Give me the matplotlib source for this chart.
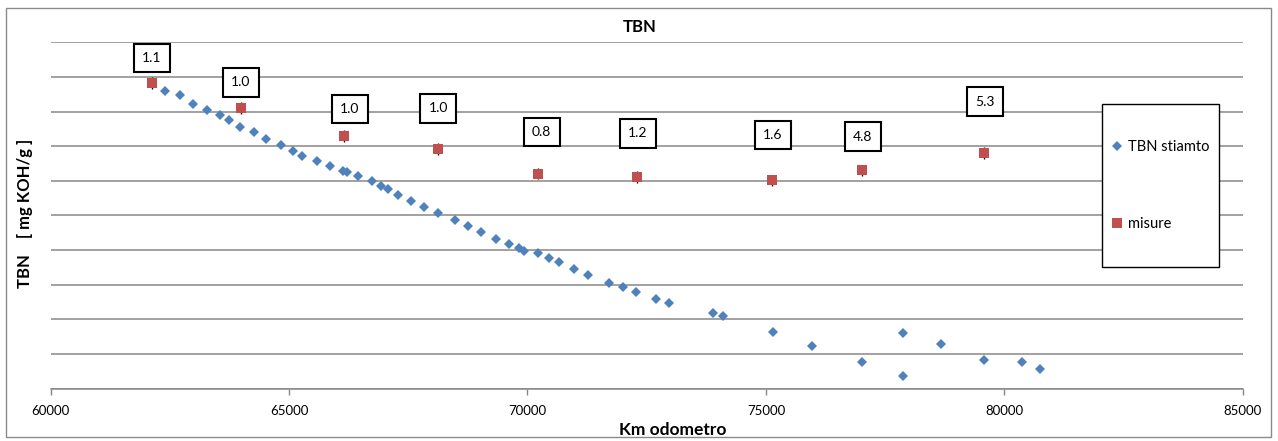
import matplotlib
matplotlib.use("Agg")
import matplotlib.pyplot as plt
from matplotlib.patches import Rectangle

# Estimated TBN along the odometer reading
km_stimato = [62403, 62711, 62978, 63278, 63550, 63745, 63976, 64257, 64521, 64829,
              65075, 65276, 65584, 65851, 66136, 66207, 66438, 66731, 66920, 67067,
              67289, 67549, 67834, 68115, 68478, 68757, 69030, 69338, 69621, 69816,
              69925, 70225, 70443, 70665, 70974, 71273, 71701, 71995, 72280, 72699,
              72966, 73895, 74092, 75140, 75964, 77013, 77879, 77879, 78670, 79565,
              80362, 80752]
tbn_stimato = [8.60, 8.47, 8.23, 8.05, 7.90, 7.75, 7.55, 7.40, 7.21, 7.03,
               6.86, 6.72, 6.57, 6.43, 6.29, 6.25, 6.14, 5.99, 5.86, 5.75,
               5.59, 5.43, 5.25, 5.06, 4.88, 4.70, 4.52, 4.33, 4.19, 4.05,
               3.97, 3.91, 3.76, 3.65, 3.45, 3.29, 3.06, 2.93, 2.79, 2.59,
               2.46, 2.17, 2.10, 1.63, 1.22, 0.77, 1.60, 0.36, 1.28, 0.83,
               0.76, 0.57]

# Laboratory measurements
km_misure = [62118, 63984, 66150, 68128, 70225, 72295, 75132, 77019, 79571]
tbn_misure = [8.82, 8.11, 7.30, 6.91, 6.21, 6.11, 6.01, 6.30, 6.81]
err_misure = [0.17, 0.17, 0.17, 0.17, 0.17, 0.17, 0.17, 0.17, 0.17]
etichette_misure = ["1.1", "1.0", "1.0", "1.0", "0.8", "1.2", "1.6", "4.8", "5.3"]

x_ticks = [60000, 65000, 70000, 75000, 80000, 85000]
y_grid = [0, 1, 2, 3, 4, 5, 6, 7, 8, 9, 10]

# label box offsets (points) relative to each measurement
offset_etichette = [(0, 18), (0, 18.3), (4.3, 19.2), (0, 29.5), (2.4, 29.8),
                    (0.5, 31.5), (0.5, 32.8), (0.5, 24.2), (0.5, 36.7)]

plt.rcParams['font.family'] = ['Lato', 'DejaVu Sans']

BLU = '#4F81BD'
ROSSO = '#C0504D'
GRIGIO = '#878787'

fig = plt.figure(figsize=(12.78, 4.41), dpi=100)
ax = fig.add_axes([0.03967, 0.11882, 0.93271, 0.78526])

ax.set_xlim(60000, 85000)
ax.set_ylim(0, 10)
ax.set_xticks(x_ticks)
ax.set_xticklabels([str(t) for t in x_ticks], fontsize=9.5)
ax.set_yticks(y_grid)
ax.tick_params(axis='y', length=0, labelleft=False)
ax.tick_params(axis='x', direction='out', length=4, width=1, color=GRIGIO, pad=8)
ax.grid(axis='y', color=GRIGIO, linewidth=1.1)
ax.grid(axis='x', visible=False)
for s in ('left', 'right', 'top'):
    ax.spines[s].set_visible(False)
ax.spines['bottom'].set_color(GRIGIO)
ax.spines['bottom'].set_linewidth(1.1)

ax.plot(km_stimato, tbn_stimato, linestyle='none', marker='D', markersize=5.2,
        color=BLU, markeredgewidth=0, label='TBN stiamto', zorder=3)
ax.errorbar(km_misure, tbn_misure, yerr=err_misure, fmt='none', ecolor='black',
            elinewidth=1, capsize=0, zorder=3)
ax.plot(km_misure, tbn_misure, linestyle='none', marker='s', markersize=6.5,
        color=ROSSO, markeredgewidth=0, label='misure', zorder=4)

for xk, yv, txt, off in zip(km_misure, tbn_misure, etichette_misure, offset_etichette):
    ax.annotate(txt, (xk, yv), xytext=off, textcoords='offset points',
                ha='center', va='center', fontsize=10,
                bbox=dict(boxstyle='square,pad=0.6', fc='white', ec='black', lw=1.5),
                zorder=5)

ax.set_xlabel('Km odometro', fontsize=12.5, fontweight='bold')
ax.xaxis.label.set_va('center')
ax.xaxis.set_label_coords(0.5218, -0.1196)

fig.text(640 / 1278, 1 - 27 / 441, 'TBN', ha='center', va='center',
         fontsize=12, fontweight='bold')
fig.text(25 / 1278, 1 - 213 / 441, 'TBN    [ mg KOH/g ]', ha='center', va='center',
         rotation=90, fontsize=12, fontweight='bold')

# legend frame
fig.patches.append(Rectangle((0.8625, 0.3939), 0.0911, 0.3703, transform=fig.transFigure,
                             fill=True, fc='white', ec='black', lw=1.0, zorder=10))
leg = fig.legend(loc='center', bbox_to_anchor=(0.9080, 0.5790), frameon=False,
                 fontsize=10.5, labelspacing=4.3, handlelength=0.8, handletextpad=0.3,
                 borderpad=0)
leg.set_zorder(11)

# outer chart border
fig.patches.append(Rectangle((6 / 1278, 1 - 437 / 441), 1265 / 1278, 429 / 441,
                             transform=fig.transFigure, fill=False, ec='#8a8a8a', lw=1.0))

fig.savefig('out.png', dpi=100)
